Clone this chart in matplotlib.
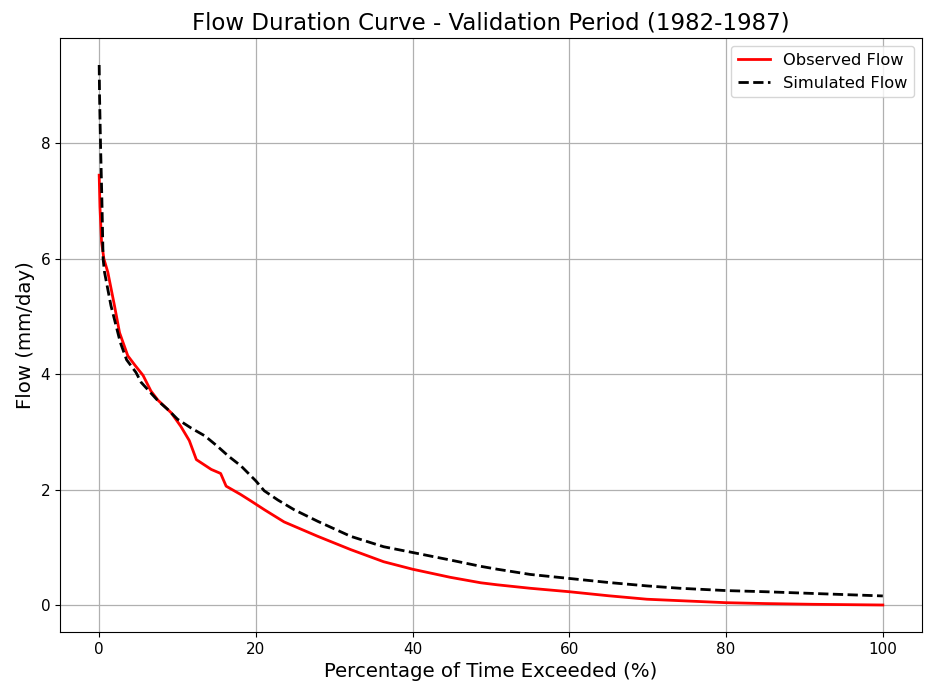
import numpy as np
import matplotlib.pyplot as plt

# values (exceedance %, flow mm/day)
obs_pct = [0.0, 0.1, 0.3, 0.6, 1.1, 1.95, 2.6, 3.65, 4.6, 5.6, 6.6, 7.5, 9.2, 10.4,
           11.5, 12.4, 14.3, 15.5, 16.2, 18.0, 19.4, 21.1, 23.6, 27.9, 32.1, 36.3,
           40.0, 44.8, 48.7, 50.8, 55.0, 60.0, 65.0, 69.9, 74.1, 80.0, 85.0, 91.1, 100.0]
obs_flow = [7.45, 6.9, 6.3, 6.0, 5.77, 5.19, 4.72, 4.32, 4.15, 3.98, 3.71, 3.55, 3.33, 3.10,
            2.85, 2.52, 2.35, 2.28, 2.06, 1.92, 1.80, 1.65, 1.44, 1.19, 0.96, 0.75,
            0.62, 0.48, 0.385, 0.35, 0.29, 0.23, 0.16, 0.10, 0.075, 0.04, 0.025, 0.012, 0.0]

sim_pct = [0.0, 0.05, 0.17, 0.35, 0.5, 0.68, 1.5, 2.7, 3.5, 4.7, 5.35, 7.5, 8.75, 10.0,
           11.7, 13.5, 15.1, 16.5, 18.1, 20.0, 21.06, 22.8, 24.9, 27.9, 32.1, 36.3,
           40.0, 44.8, 48.7, 50.8, 55.0, 60.0, 65.0, 70.0, 74.1, 80.0, 85.0, 91.1, 100.0]
sim_flow = [9.36, 8.8, 8.0, 7.0, 6.0, 5.77, 5.19, 4.55, 4.25, 4.03, 3.86, 3.54, 3.39, 3.22,
            3.07, 2.93, 2.75, 2.58, 2.41, 2.15, 1.98, 1.82, 1.65, 1.45, 1.19, 1.01,
            0.91, 0.78, 0.67, 0.62, 0.53, 0.46, 0.39, 0.33, 0.29, 0.25, 0.23, 0.20, 0.157]

fig = plt.figure(figsize=(9.34, 6.98), dpi=100)
ax = fig.add_axes([60 / 934, 66 / 698, 862 / 934, 594 / 698])

ax.plot(obs_pct, obs_flow, color='red', linewidth=2, label='Observed Flow')
ax.plot(sim_pct, sim_flow, color='black', linestyle='--', linewidth=2, label='Simulated Flow')

ax.set_title('Flow Duration Curve - Validation Period (1982-1987)', fontsize=16.5)
ax.set_xlabel('Percentage of Time Exceeded (%)', fontsize=14.2)
ax.set_ylabel('Flow (mm/day)', fontsize=14.2)
ax.set_xlim(-5, 105)
ax.tick_params(labelsize=11)
ax.grid(True, color='#b0b0b0', linewidth=0.9)
ax.legend(loc='upper right', fontsize=11.7)

fig.savefig('out.png', dpi=100)
